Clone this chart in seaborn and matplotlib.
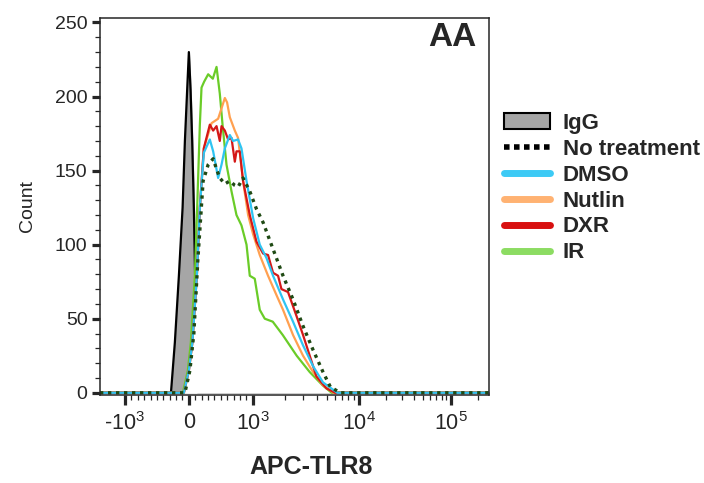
import numpy as np
import pandas as pd
import matplotlib
matplotlib.use("Agg")
import matplotlib.pyplot as plt
import seaborn as sns
from matplotlib.lines import Line2D
from matplotlib.patches import Patch
from matplotlib.ticker import FixedLocator

# =========================
# DATA
# =========================

x_min = -1720
x_max = 262144

igg_x = [-1720, -400, -280, -219, -156, -98, -62, -27, 0, 27, 52, 78, 98, 120, 145, 300, 262144]
igg_y = [0, 0, 0, 34, 79, 125, 170, 204, 230, 204, 170, 125, 79, 34, 0, 0, 0]

none_x = [-1720, -62, 16, 78, 141, 223, 302, 380, 433, 484, 563, 641, 719, 770, 848, 953,
          1084, 1251, 1554, 1931, 2400, 2984, 3706, 4607, 5400, 6700, 262144]
none_y = [0, 0, 15, 40, 90, 143, 154, 158, 151, 145, 141, 143, 140, 139, 145, 136,
          124, 115, 97, 79, 63, 45, 29, 14, 4, 0, 0]

dmso_x = [-1720, -78, 0, 55, 125, 172, 234, 328, 380, 458, 511, 563, 641, 692, 770, 823, 902,
          1007, 1164, 1347, 1554, 1931, 2400, 2984, 3706, 4607, 6300, 262144]
dmso_y = [0, 0, 15, 34, 79, 125, 162, 171, 163, 145, 154, 165, 174, 170, 171, 165, 143,
          118, 100, 91, 79, 63, 48, 32, 18, 7, 0, 0]

nutlin_x = [-1720, -78, 0, 55, 125, 172, 234, 355, 458, 511, 563, 598, 641, 719, 770, 848, 927,
            1007, 1164, 1394, 1673, 1931, 2400, 2984, 3706, 4607, 5800, 262144]
nutlin_y = [0, 0, 15, 34, 79, 125, 165, 182, 185, 192, 199, 196, 186, 177, 172, 143, 120,
            107, 93, 79, 66, 56, 39, 25, 14, 5, 0, 0]

dxr_x = [-1720, -78, 0, 55, 125, 172, 234, 328, 380, 433, 484, 511, 563, 614, 667, 719, 745, 797,
         848, 953, 1084, 1251, 1394, 1554, 1733, 1865, 2152, 2583, 2984, 3451, 3991, 4957,
         6000, 262144]
dxr_y = [0, 0, 15, 34, 79, 125, 165, 181, 177, 180, 170, 180, 177, 171, 172, 156, 163, 163,
         143, 120, 102, 94, 93, 81, 79, 70, 68, 52, 39, 25, 11, 3,
         0, 0]

ir_x = [-1720, -94, -16, 31, 94, 130, 172, 198, 239, 302, 375, 433, 484, 531, 589, 667, 745, 823,
        902, 953, 1044, 1164, 1298, 1544, 1919, 2600, 3450, 4575, 5560, 262144]
ir_y = [0, 0, 15, 34, 79, 125, 181, 206, 210, 215, 212, 220, 202, 179, 154, 136, 120, 113,
        100, 79, 77, 56, 50, 48, 39, 25, 14, 5, 0, 0]

series_names = ["IR", "Nutlin", "DXR", "DMSO", "No treatment"]
series_x = [ir_x, nutlin_x, dxr_x, dmso_x, none_x]
series_y = [ir_y, nutlin_y, dxr_y, dmso_y, none_y]

colors = {
    "No treatment": "#1f4a14",
    "DMSO": "#2ec4f2",
    "Nutlin": "#ffa050",
    "DXR": "#d41818",
    "IR": "#6acc28",
}
legend_colors = {
    "DMSO": "#3ccaf5",
    "Nutlin": "#ffb272",
    "DXR": "#d81010",
    "IR": "#8cdc62",
}

major_ticks = [-1000, 0, 1000, 10000, 100000]
major_labels = ["-10$^3$", "0", "10$^3$", "10$^4$", "10$^5$"]

# =========================
# BIEX-LIKE AXIS TRANSFORM
# =========================

log_pts = [3, 4, 5, 6]
disp_pts = [64, 170, 262, 354]


def fwd(x):
    x = np.asarray(x, dtype=float)
    ax_ = np.abs(x)
    lin = x / 1000 * 64
    lg = np.interp(np.log10(np.maximum(ax_, 1000)), log_pts, disp_pts) * np.sign(x)
    return np.where(ax_ <= 1000, lin, lg)


def inv(u):
    u = np.asarray(u, dtype=float)
    au = np.abs(u)
    lin = u * 1000 / 64
    lg = 10 ** np.interp(np.maximum(au, 64), disp_pts, log_pts) * np.sign(u)
    return np.where(au <= 64, lin, lg)


# =========================
# PLOT
# =========================

sns.set_style("ticks")
plt.rcParams["font.family"] = ["Liberation Sans", "DejaVu Sans"]
plt.rcParams["mathtext.fontset"] = "custom"
plt.rcParams["mathtext.rm"] = "Liberation Sans"
plt.rcParams["mathtext.it"] = "Liberation Sans"

df = pd.concat(
    [pd.DataFrame({"x": xs, "count": ys, "sample": n})
     for n, xs, ys in zip(series_names, series_x, series_y)],
    ignore_index=True,
)

fig = plt.figure(figsize=(7.04, 4.83), dpi=100)
ax = fig.add_axes([100 / 704, 1 - 395 / 483, 389 / 704, 377 / 483])
ax.set_xscale("function", functions=(fwd, inv))

# IgG filled histogram at the back
ax.fill_between(igg_x, igg_y, 0, color="#a6a6a6", zorder=1)
ax.plot(igg_x, igg_y, color="black", lw=1.6, zorder=1.5)

# overlays are opaque (white fill) like in FlowJo
for xs, ys in zip(series_x, series_y):
    ax.fill_between(xs, ys, 0, color="white", lw=0, zorder=2)

sns.lineplot(
    data=df, x="x", y="count", hue="sample", style="sample",
    hue_order=series_names, style_order=series_names,
    palette=colors,
    dashes={"IR": "", "Nutlin": "", "DXR": "", "DMSO": "", "No treatment": (1, 1.4)},
    lw=1.6, sort=False, estimator=None, legend=False, ax=ax, zorder=3,
)
ax.lines[-1].set_linewidth(2.4)

ax.set_xlim(x_min, x_max)
ax.set_ylim(-1.5, 253)

ax.xaxis.set_major_locator(FixedLocator(major_ticks))
ax.set_xticklabels(major_labels)
minor = ([-k * 100 for k in range(1, 10)] + [k * 100 for k in range(1, 10)]
         + [k * 1000 for k in range(2, 10)] + [k * 10000 for k in range(2, 10)] + [200000])
ax.xaxis.set_minor_locator(FixedLocator(minor))

ax.set_yticks([0, 50, 100, 150, 200, 250])
ax.yaxis.set_minor_locator(FixedLocator(list(range(0, 251, 10))))

ax.tick_params(which="major", length=6, width=2.3, labelsize=14, pad=3)
ax.tick_params(axis="x", which="major", length=7, pad=5, labelsize=15.5)
ax.tick_params(which="minor", length=3.5, width=0.9)
for s in ax.spines.values():
    s.set_linewidth(1.1)
    s.set_zorder(4)

ax.set_xlabel("APC-TLR8", fontsize=18, fontweight="bold")
ax.xaxis.set_label_coords(0.542, -0.16)
ax.set_ylabel("Count", fontsize=14)
ax.yaxis.set_label_coords(-0.165, 0.5)

ax.text(0.905, 0.947, "AA", transform=ax.transAxes, fontsize=24,
        fontweight="bold", ha="center", va="center")

handles = [Patch(facecolor="#a6a6a6", edgecolor="black", linewidth=1.5),
           Line2D([], [], color="black", lw=4, linestyle=(0, (1, 0.8)))]
handles += [Line2D([], [], color=legend_colors[n], lw=5) for n in ["DMSO", "Nutlin", "DXR", "IR"]]
labels = ["IgG", "No treatment", "DMSO", "Nutlin", "DXR", "IR"]
leg = ax.legend(handles, labels, loc="upper left", bbox_to_anchor=(1.015, 0.772),
                frameon=False, borderaxespad=0, handlelength=2.1, handletextpad=0.55,
                labelspacing=0.22, prop={"weight": "bold", "size": 16})

fig.savefig("out.png", dpi=100)
